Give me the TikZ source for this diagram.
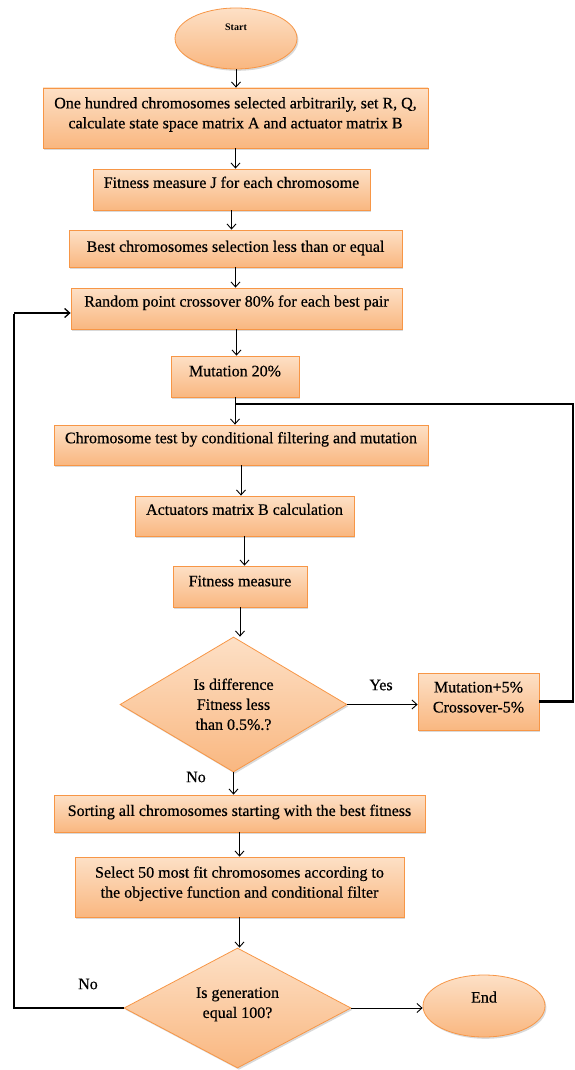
\documentclass[tikz,border=0pt]{standalone}
\usepackage{fontspec}
\setmainfont{Liberation Serif}[UprightFeatures={FakeBold=0.5}]
\usetikzlibrary{shapes.geometric,arrows.meta,shadows}
\definecolor{obord}{RGB}{247,150,70}
\definecolor{otop}{RGB}{253,224,198}
\definecolor{obot}{RGB}{249,183,128}
\begin{document}
\begin{tikzpicture}[x=1pt,y=-1pt,
  shade/.style={draw=obord, line width=0.8pt, top color=otop, bottom color=obot,
    drop shadow={shadow xshift=1.4pt,shadow yshift=-1.8pt,opacity=0.3}},
  box/.style={shade, rectangle, align=center, inner sep=0pt, font=\fontsize{16}{20}\selectfont},
  term/.style={shade, ellipse, align=center, inner sep=0pt},
  decision/.style={shade, diamond, aspect=1.7, align=center, inner sep=0pt, font=\fontsize{16}{20}\selectfont},
  lab/.style={font=\fontsize{16}{20}\selectfont, inner sep=0pt},
  arr/.style={line width=0.9pt, -{Straight Barb[length=5pt,width=9pt]}},
  loopline/.style={line width=2.6pt},
]
\useasboundingbox (0,0) rectangle (574,1070);

\node[term, minimum width=122pt, minimum height=61pt, text depth=23pt, font=\fontsize{10}{12}\selectfont\bfseries] (start) at (236,38.5) {Start};
\node[box, minimum width=385pt, minimum height=60pt, text depth=10.4pt] (b1) at (235.5,118) {One hundred chromosomes selected arbitrarily, set R, Q,\\calculate state space matrix A and actuator matrix B};
\node[box, minimum width=277pt, minimum height=41pt, text depth=14.4pt] (b2) at (231.5,189.5) {Fitness measure J for each chromosome};
\node[box, minimum width=333pt, minimum height=37pt, text depth=4.4pt] (b3) at (235.5,248.5) {Best chromosomes selection less than or equal};
\node[box, minimum width=331pt, minimum height=41pt, text depth=15pt] (b4) at (236.5,308.5) {Random point crossover 80\% for each best pair};
\node[box, minimum width=128pt, minimum height=41pt, text depth=11pt] (b5) at (235,376.5) {Mutation 20\%};
\node[box, minimum width=374pt, minimum height=40pt, text depth=14.8pt] (b6) at (241,445) {Chromosome test by conditional filtering and mutation};
\node[box, minimum width=219pt, minimum height=40pt, text depth=13.4pt] (b7) at (244.5,516) {Actuators matrix B calculation};
\node[box, minimum width=134pt, minimum height=41pt, text depth=11pt] (b8) at (240,586.5) {Fitness measure};
\node[decision, minimum width=227pt, minimum height=135pt, text depth=0.6pt] (d1) at (233.5,704.5) {Is difference\\Fitness less\\than 0.5\%.?};
\node[box, minimum width=121pt, minimum height=57pt, text depth=8.8pt] (m5) at (478.5,701.5) {Mutation+5\%\\Crossover-5\%};
\node[box, minimum width=371pt, minimum height=37pt, text depth=6.4pt] (b9) at (239.5,813.5) {Sorting all chromosomes starting with the best fitness};
\node[box, minimum width=329pt, minimum height=60pt, text depth=10pt] (b10) at (239.5,887) {Select 50 most fit chromosomes according to\\the objective function and conditional filter};
\node[decision, minimum width=227pt, minimum height=120pt, text depth=10.8pt] (d2) at (237.5,1008) {Is generation\\equal 100?};
\node[term, minimum width=122pt, minimum height=62pt, text depth=18pt, font=\fontsize{16}{20}\selectfont] (end) at (484,1006) {End};

\node[lab] (yes) at (381,685) {Yes};
\node[lab] (no1) at (196,777) {No};
\node[lab] (no2) at (88,984) {No};

\draw[arr] (start.south) -- (start.south |- b1.north);
\draw[arr] (b1.south) -- (b1.south |- b2.north);
\draw[arr] (b2.south) -- (b2.south |- b3.north);
\draw[arr] (b3.south) -- (b3.south |- b4.north);
\draw[arr] (b4.south) -- (b4.south |- b5.north);
\draw[arr] (b5.south) -- (b5.south |- b6.north);
\draw[arr] (b6.south) -- (b6.south |- b7.north);
\draw[arr] (b7.south) -- (b7.south |- b8.north);
\draw[arr] (b8.south) -- (b8.south |- d1.north);
\draw[arr] (d1.east) -- (d1.east -| m5.west);
\draw[arr] (d1.south) -- (d1.south |- b9.north);
\draw[arr] (b9.south) -- (b9.south |- b10.north);
\draw[arr] (b10.south) -- (b10.south |- d2.north);
\draw[arr] (d2.east) -- (d2.east -| end.west);

\coordinate (jr) at (573,404);
\draw[loopline] (m5.east) -| (jr) -- (b5.south |- jr);

\coordinate (lt) at (14,313);
\draw[loopline] (d2.west) -- (d2.west -| lt) -- ([yshift=-1.3pt]lt);
\draw[arr, line width=1.3pt] (lt) -- (b4.west |- lt);
\end{tikzpicture}
\end{document}
